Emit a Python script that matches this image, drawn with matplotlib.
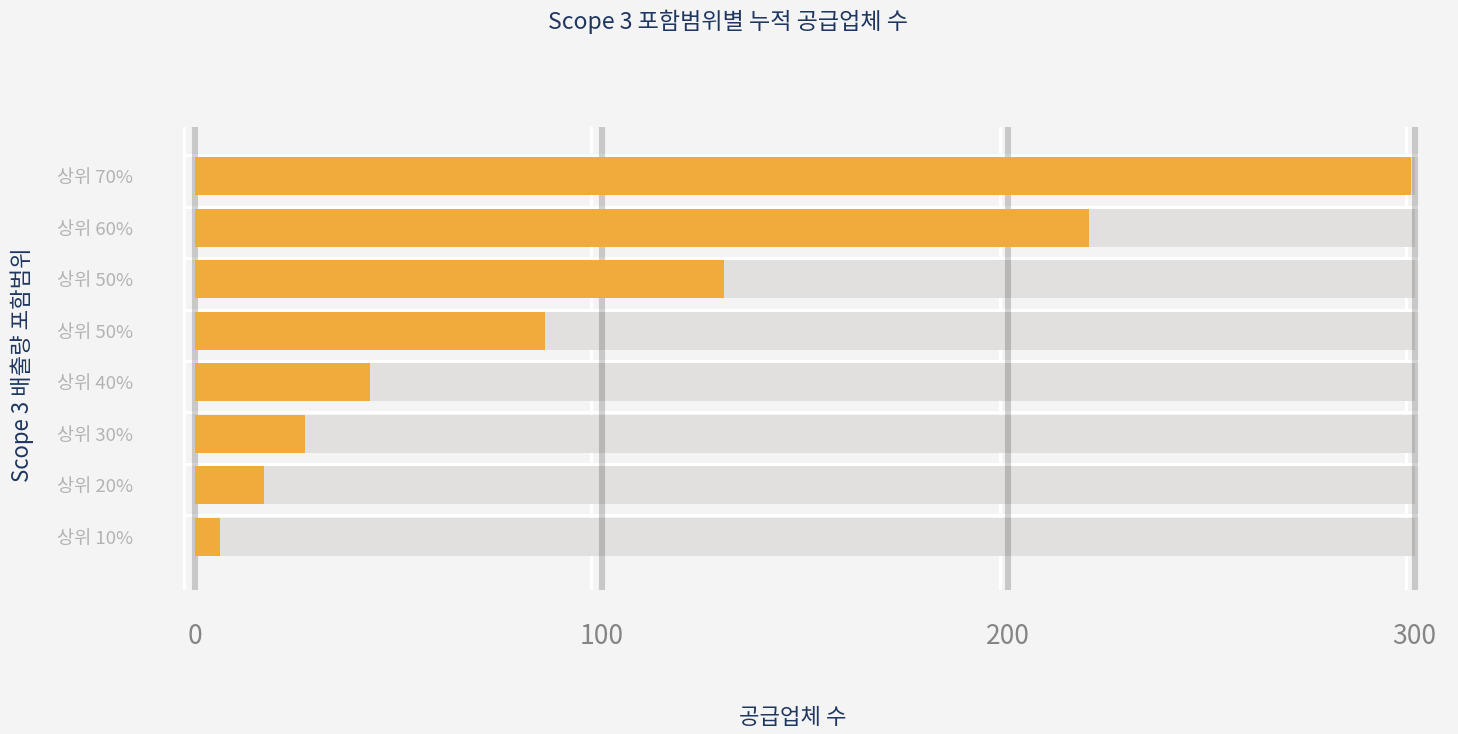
import numpy as np
import matplotlib
matplotlib.use("Agg")
import matplotlib.pyplot as plt

plt.rcParams['font.family'] = ['Noto Sans CJK KR', 'DejaVu Sans']

# 데이터 (아래에서 위로)
categories = ["상위 10%", "상위 20%", "상위 30%", "상위 40%", "상위 50%", "상위 50%", "상위 60%", "상위 70%"]
suppliers = [6, 17, 27, 43, 86, 130, 220, 299]
max_value = 300
x_ticks = [0, 100, 200, 300]

BG = "#f4f4f4"
ORANGE = "#f0ab3a"
TRACK = "#e1e0de"
NAVY = "#1e3660"

fig = plt.figure(figsize=(14.58, 7.34), dpi=100, facecolor=BG)
ax = fig.add_axes([0.1255, 0.196, 0.8475, 0.631])
ax.set_facecolor(BG)

y = np.arange(len(categories))
h = 0.735

# 배경 트랙과 값 막대
ax.barh(y, [max_value] * len(y), height=h, color=TRACK, zorder=1)
ax.barh(y, suppliers, height=h, color=ORANGE, zorder=4)

# 막대 위 흰색 구분선
for yi in y:
    ax.plot([-2.7, max_value + 1], [yi + h / 2 + 0.045] * 2, color="white", lw=2.2, zorder=0.5,
            solid_capstyle="butt")

# 흰색 보조선 (약간 어긋난 그리드)
for xv in [-2.7, 97.4, 197.9, 297.8]:
    ax.axvline(xv, color="white", lw=2.2, zorder=0.4)

# 주 그리드 (트랙 위, 주황 막대 아래)
for xv in x_ticks:
    ax.axvline(xv, color="black", alpha=0.18, lw=4.4, zorder=3)

ax.set_xlim(-3, 301)
ax.set_ylim(-1.04, 7.96)

ax.set_xticks(x_ticks)
ax.set_xticklabels([str(v) for v in x_ticks], color="#858585", fontsize=19)
ax.set_yticks(y)
ax.set_yticklabels(categories, color="#b3b3b3", fontsize=13.4)
ax.tick_params(axis="x", length=0, pad=24)
ax.tick_params(axis="y", length=0, pad=36)

for s in ax.spines.values():
    s.set_visible(False)

fig.text(793 / 1458, 1 - 718 / 734, "공급업체 수", color=NAVY, fontsize=16,
         ha="center", va="center", fontweight="medium")
fig.text(22 / 1458, 1 - 365 / 734, "Scope 3 배출량 포함범위", color=NAVY, fontsize=16,
         ha="center", va="center", rotation=90, fontweight="medium")
fig.text(728 / 1458, 1 - 22 / 734, "Scope 3 포함범위별 누적 공급업체 수", color=NAVY,
         fontsize=16.6, ha="center", va="center", fontweight="medium")

fig.savefig("out.png", dpi=100, facecolor=BG)
